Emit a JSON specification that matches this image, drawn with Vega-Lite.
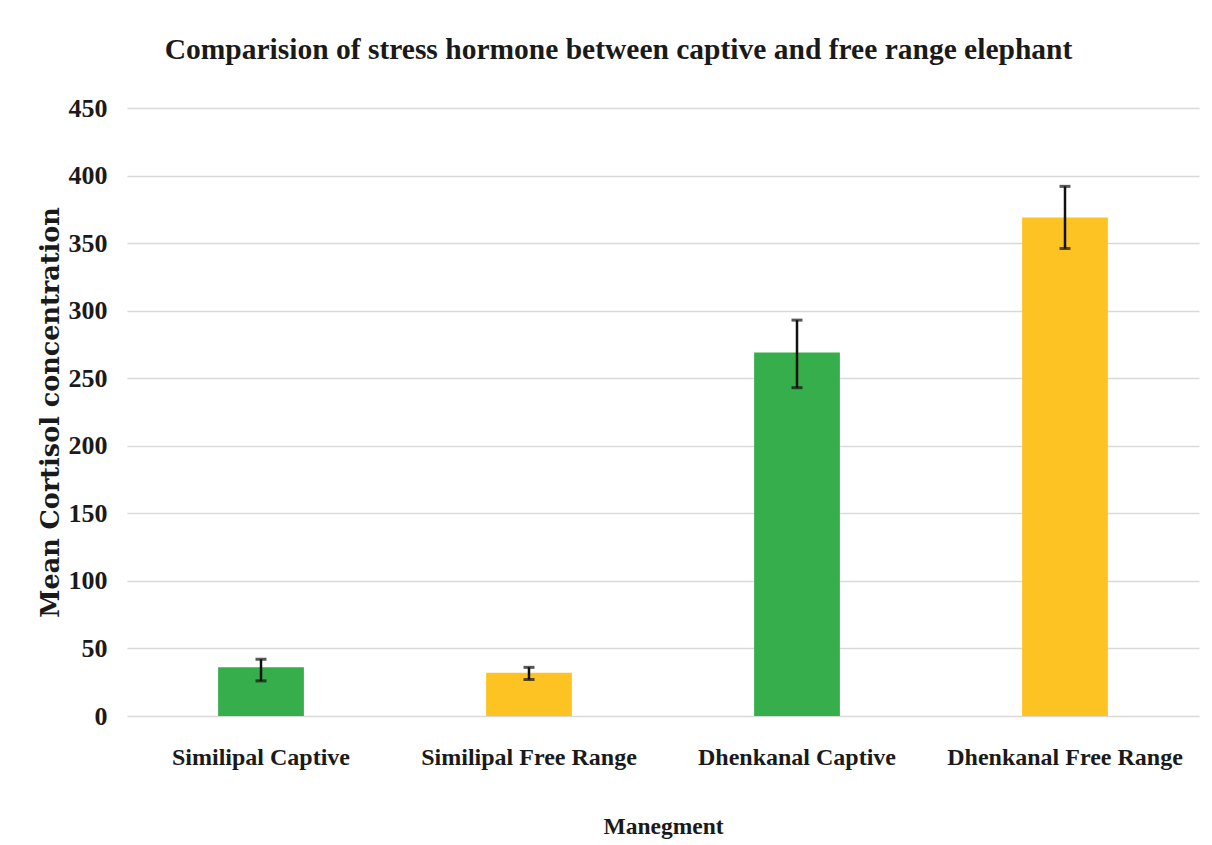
{
  "$schema": "https://vega.github.io/schema/vega-lite/v6.json",
  "width": 1072,
  "height": 608,
  "autosize": {"type": "none"},
  "padding": {"left": 127, "top": 108, "right": 13, "bottom": 129},
  "background": "white",
  "config": {"view": {"stroke": null}},
  "title": {
    "text": "Comparision of stress hormone between captive and free range elephant",
    "font": "Liberation Serif",
    "fontSize": 29.5,
    "fontWeight": "bold",
    "color": "#1a1a1a",
    "anchor": "middle",
    "frame": "bounds",
    "offset": 30
  },
  "data": {
    "values": [
      {"group": "Similipal Captive", "type": "Captive", "mean": 36, "lo": 26, "hi": 42},
      {"group": "Similipal Free Range", "type": "Free Range", "mean": 32, "lo": 27, "hi": 36},
      {"group": "Dhenkanal Captive", "type": "Captive", "mean": 269, "lo": 243, "hi": 293},
      {"group": "Dhenkanal Free Range", "type": "Free Range", "mean": 369, "lo": 346, "hi": 392}
    ]
  },
  "encoding": {
    "x": {
      "field": "group",
      "type": "nominal",
      "sort": null,
      "scale": {"paddingInner": 0.68, "paddingOuter": 0.34},
      "axis": {
        "title": "Manegment",
        "labelAngle": 0,
        "labelLimit": 0,
        "labelFont": "Liberation Serif",
        "labelFontSize": 24,
        "labelFontWeight": "bold",
        "labelColor": "#1a1a1a",
        "labelPadding": 29,
        "ticks": false,
        "domain": false,
        "titleFont": "Liberation Serif",
        "titleFontSize": 23.5,
        "titleFontWeight": "bold",
        "titleColor": "#1a1a1a",
        "titleY": 110,
        "titleBaseline": "middle"
      }
    }
  },
  "layer": [
    {
      "mark": {"type": "bar"},
      "encoding": {
        "y": {
          "field": "mean",
          "type": "quantitative",
          "title": "Mean Cortisol concentration",
          "scale": {"domain": [0, 450]},
          "axis": {
            "values": [0, 50, 100, 150, 200, 250, 300, 350, 400, 450],
            "grid": true,
            "gridColor": "#d9d9d9",
            "gridWidth": 1.5,
            "ticks": false,
            "domain": false,
            "labelFont": "Liberation Serif",
            "labelFontSize": 26,
            "labelFontWeight": "bold",
            "labelColor": "#1a1a1a",
            "labelPadding": 20,
            "titleFont": "DejaVu Serif",
            "titleFontSize": 25.5,
            "titleFontWeight": "bold",
            "titleColor": "#1a1a1a",
            "titleX": -77,
            "titleBaseline": "middle"
          }
        },
        "color": {
          "field": "type",
          "type": "nominal",
          "scale": {"domain": ["Captive", "Free Range"], "range": ["#35ae4b", "#fdc323"]},
          "legend": null
        }
      }
    },
    {
      "mark": {
        "type": "errorbar",
        "color": "#111111",
        "thickness": 2.5,
        "ticks": {"size": 11, "thickness": 3, "color": "#111111"}
      },
      "encoding": {
        "y": {"field": "lo", "type": "quantitative", "title": "Mean Cortisol concentration"},
        "y2": {"field": "hi"}
      }
    }
  ]
}
